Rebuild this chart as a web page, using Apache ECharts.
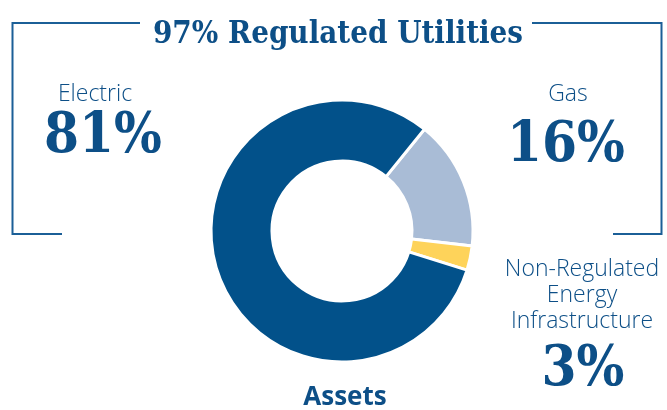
<!DOCTYPE html>
<html>
<head>
<meta charset="utf-8">
<script src="https://cdn.jsdelivr.net/npm/echarts@6/dist/echarts.min.js"></script>
<style>
  html, body { margin: 0; padding: 0; background: #fff; }
  #main { width: 667px; height: 410px; }
</style>
</head>
<body>
<div id="main"></div>
<script>
// data, in drawing order (clockwise from the Gas slice)
const segments = ['Gas', 'Non-Regulated\nEnergy\nInfrastructure', 'Electric']
const shares = [16, 3, 81]
const colors = ['#a9bcd6', '#fed35a', '#02518a']
const heading = '97% Regulated Utilities'
const centerLabel = 'Assets'

const textBlue = '#0d4f87'
const lineBlue = '#1b5f97'
const serif = '"DejaVu Serif Condensed", "DejaVu Serif", serif'

// where each segment's caption goes: [name x, name y, value x, value y]
const captionPos = {
  'Electric': [95, 94, 103, 137],
  'Gas': [568, 94, 566, 146],
  'Non-Regulated\nEnergy\nInfrastructure': [582, 295, 583, 370]
}

const main = document.getElementById('main')
const chart = echarts.init(main, null, { renderer: 'canvas' })

const captions = []
segments.forEach((name, i) => {
  const p = captionPos[name]
  captions.push({
    type: 'text',
    style: {
      text: name, x: p[0], y: p[1], align: 'center', verticalAlign: 'middle',
      font: '300 23px "Open Sans"', fill: textBlue, lineHeight: 26
    }
  })
  captions.push({
    type: 'text',
    style: {
      text: shares[i] + '%', x: p[2], y: p[3], align: 'center', verticalAlign: 'middle',
      font: 'bold 56px ' + serif, fill: textBlue
    }
  })
})

chart.setOption({
  animation: false,
  series: [{
    type: 'pie',
    silent: true,
    center: [342, 231],
    radius: [70, 131],
    startAngle: 51,
    clockwise: true,
    label: { show: false },
    labelLine: { show: false },
    itemStyle: { borderColor: '#fff', borderWidth: 3 },
    data: segments.map((name, i) => ({ name, value: shares[i], itemStyle: { color: colors[i] } }))
  }],
  graphic: [
    // frame around the regulated part
    { type: 'polyline', shape: { points: [[140, 23], [12.5, 23], [12.5, 234], [62, 234]] },
      style: { stroke: lineBlue, lineWidth: 2, fill: null } },
    { type: 'polyline', shape: { points: [[532, 23], [661.5, 23], [661.5, 234], [613, 234]] },
      style: { stroke: lineBlue, lineWidth: 2, fill: null } },
    { type: 'text',
      style: { text: heading, x: 338, y: 35, align: 'center', verticalAlign: 'middle',
        font: 'bold 31px ' + serif, fill: textBlue } },
    { type: 'text',
      style: { text: centerLabel, x: 345, y: 398, align: 'center', verticalAlign: 'middle',
        font: 'bold 26px "Open Sans"', fill: textBlue } },
    ...captions
  ]
})
</script>
</body>
</html>
